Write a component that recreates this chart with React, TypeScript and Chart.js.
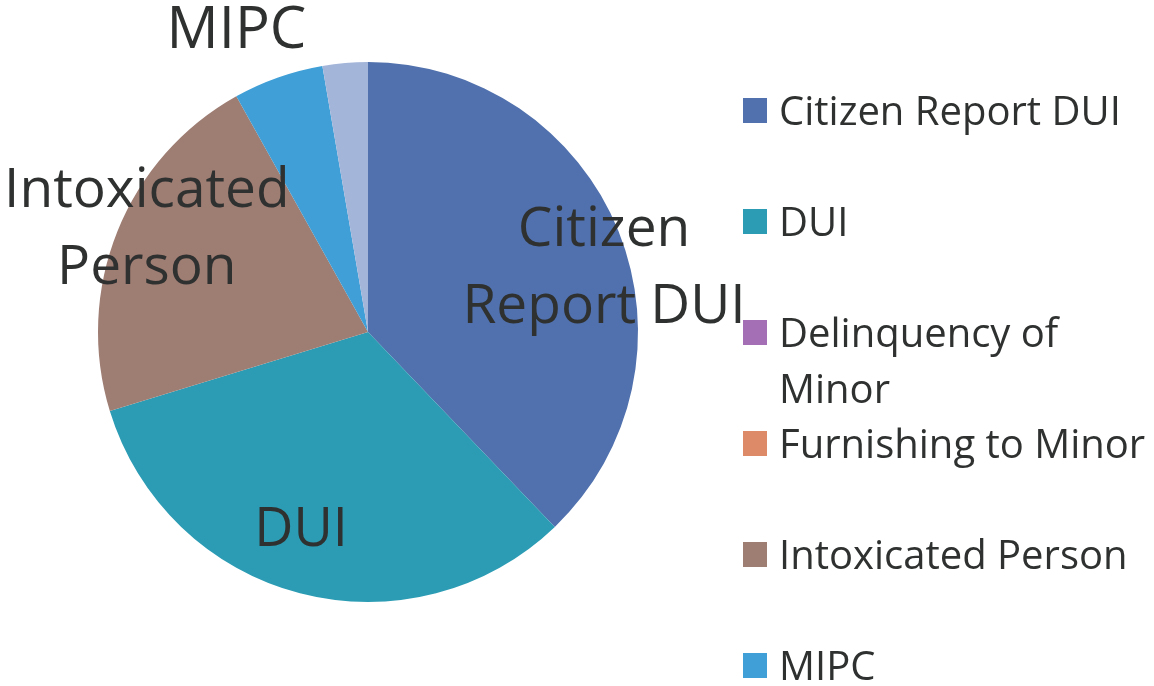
import { useEffect, useRef } from "react";
import { Chart, registerables } from "chart.js";

Chart.register(...registerables);

// ---- data ----
const categories = [
  "Citizen Report DUI",
  "DUI",
  "Delinquency of Minor",
  "Furnishing to Minor",
  "Intoxicated Person",
  "MIPC",
  "Other",
];
const counts = [14, 12, 0, 0, 8, 2, 1];

// ---- style ----
const sliceColors = [
  "#5071ad",
  "#2b9cb4",
  "#a56fb5",
  "#dc8a68",
  "#9e7d73",
  "#3f9fd6",
  "#a4b5da",
];
const TEXT_COLOR = "#2f3131";
const FONT_FAMILY = "'Open Sans', 'Noto Sans', sans-serif";
// per-slice data label placement: radius factor, clockwise angle shift (deg), font size; null = hidden
const labelPlacement: ({ r: number; shift: number; size: number } | null)[] = [
  { r: 0.909, shift: 6.0, size: 55 },
  { r: 0.762, shift: 4.4, size: 54 },
  null,
  null,
  { r: 0.909, shift: 3.8, size: 55 },
  { r: 1.229, shift: -3.9, size: 58 },
  null,
];
const LABEL_WRAP = 300;
const LABEL_LINE_GAP = 1.4; // line spacing in em
const LEGEND = {
  boxX: 743,
  boxW: 24,
  boxH: 25,
  textX: 779,
  firstY: 110.5,
  rowStep: 111,
  lineStep: 56,
  fontSize: 40,
  maxWidth: 372,
};

function wrap(ctx: CanvasRenderingContext2D, text: string, maxW: number): string[] {
  const words = text.split(" ");
  const lines: string[] = [];
  let cur = "";
  for (const w of words) {
    const test = cur ? cur + " " + w : w;
    if (cur && ctx.measureText(test).width > maxW) {
      lines.push(cur);
      cur = w;
    } else {
      cur = test;
    }
  }
  if (cur) lines.push(cur);
  return lines;
}

const customDraw = {
  id: "customDraw",
  beforeDraw(chart: any) {
    const ctx = chart.ctx as CanvasRenderingContext2D;
    ctx.save();
    ctx.fillStyle = "#ffffff";
    ctx.fillRect(0, 0, chart.width, chart.height);
    ctx.restore();
  },
  afterDraw(chart: any) {
    const ctx = chart.ctx as CanvasRenderingContext2D;
    const meta = chart.getDatasetMeta(0);
    ctx.save();
    ctx.fillStyle = TEXT_COLOR;
    ctx.textAlign = "center";
    ctx.textBaseline = "alphabetic";
    // data labels
    meta.data.forEach((arc: any, i: number) => {
      const place = labelPlacement[i];
      if (!place || !counts[i]) return;
      const p = arc.getProps(["x", "y", "startAngle", "endAngle", "outerRadius"], true);
      const a = (p.startAngle + p.endAngle) / 2 + (place.shift * Math.PI) / 180;
      const cx = p.x + Math.cos(a) * p.outerRadius * place.r;
      const cy = p.y + Math.sin(a) * p.outerRadius * place.r;
      ctx.font = `${place.size}px ${FONT_FAMILY}`;
      const lines = wrap(ctx, categories[i], LABEL_WRAP);
      const step = place.size * LABEL_LINE_GAP;
      lines.forEach((ln, k) => {
        const lineCenter = cy + (k - (lines.length - 1) / 2) * step;
        ctx.fillText(ln, cx, lineCenter + place.size * 0.357);
      });
    });
    // legend
    ctx.textAlign = "left";
    ctx.font = `${LEGEND.fontSize}px ${FONT_FAMILY}`;
    categories.forEach((cat, i) => {
      const rowY = LEGEND.firstY + i * LEGEND.rowStep;
      ctx.fillStyle = sliceColors[i];
      ctx.fillRect(LEGEND.boxX, rowY - LEGEND.boxH / 2, LEGEND.boxW, LEGEND.boxH);
      ctx.fillStyle = TEXT_COLOR;
      const lines = wrap(ctx, cat, LEGEND.maxWidth);
      lines.forEach((ln, k) => {
        ctx.fillText(ln, LEGEND.textX, rowY + k * LEGEND.lineStep + LEGEND.fontSize * 0.357);
      });
    });
    ctx.restore();
  },
};

export default function App() {
  const ref = useRef<HTMLCanvasElement | null>(null);
  useEffect(() => {
    document.body.style.margin = "0";
    const canvas = ref.current;
    if (!canvas) return;
    const chart = new Chart(canvas, {
      type: "pie",
      data: {
        labels: categories,
        datasets: [
          {
            data: counts,
            backgroundColor: sliceColors,
            borderWidth: 0,
          },
        ],
      },
      options: {
        responsive: false,
        animation: false,
        layout: { padding: { left: 98, right: 516, top: 62, bottom: 84 } },
        plugins: {
          legend: { display: false },
          tooltip: { enabled: false },
        },
      },
      plugins: [customDraw],
    });
    return () => chart.destroy();
  }, []);
  return (
    <div style={{ position: "absolute", left: 0, top: 0, width: 1154, height: 686 }}>
      <canvas ref={ref} width={1154} height={686} style={{ display: "block" }} />
    </div>
  );
}
